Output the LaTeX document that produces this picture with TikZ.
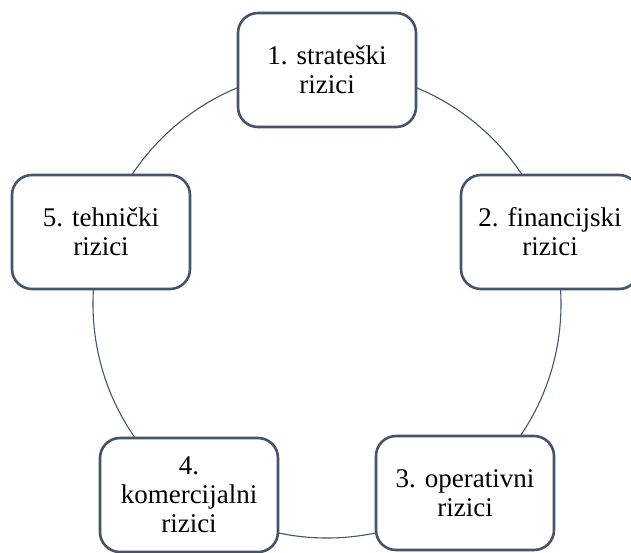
\documentclass[tikz,border=0pt]{standalone}
\usepackage{fontspec}
\setmainfont{Liberation Serif}
\newfontfamily\rizikfont{Liberation Serif}
\usepackage{xcolor}
\definecolor{rizikline}{HTML}{44546A}
\frenchspacing
\tikzset{
	rizik/.style={draw=rizikline, line width=2.6pt, rounded corners=20pt, fill=white,
		minimum width=178pt, minimum height=114pt, align=center, text width=166pt,
		font=\rizikfont\fontsize{27}{29}\selectfont}
}

\begin{document}
\begin{tikzpicture}[x=1pt,y=-1pt]
	\useasboundingbox (0,0) rectangle (631,552);
	\coordinate (O) at (327,304);
	\draw[rizikline, line width=1.1pt] (O) circle (234);
	\node[rizik] (strat) at (327,70) {1. strateški\\rizici};
	\node[rizik] (fin) at (550,232) {2. financijski\\rizici};
	\node[rizik] (oper) at (465,493) {3. operativni\\rizici};
	\node[rizik] (kom) at (189,495) {4.\\komercijalni\\rizici};
	\node[rizik] (teh) at (101,232) {5. tehnički\\rizici};
\end{tikzpicture}
\end{document}
